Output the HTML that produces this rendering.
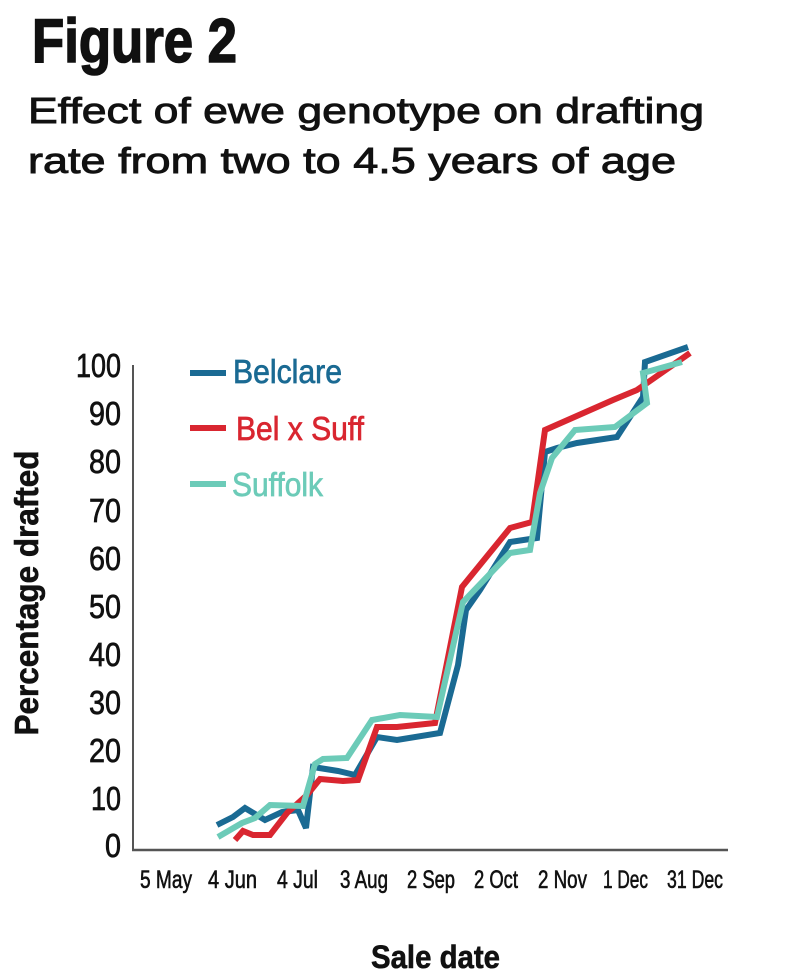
<!DOCTYPE html>
<html>
<head>
<meta charset="utf-8">
<style>
  html,body{margin:0;padding:0;background:#fff;}
  svg{display:block;}
  text{font-family:"Liberation Sans",sans-serif;fill:#111;}
</style>
</head>
<body>
<svg width="790" height="977" viewBox="0 0 790 977" xmlns="http://www.w3.org/2000/svg">
  <rect width="790" height="977" fill="#fff"/>
  <!-- Title -->
  <text x="32" y="62" font-size="62" font-weight="bold" stroke="#111" stroke-width="1.6" textLength="205" lengthAdjust="spacingAndGlyphs">Figure 2</text>
  <text x="28" y="123" font-size="36" stroke="#111" stroke-width="0.9" textLength="676" lengthAdjust="spacingAndGlyphs">Effect of ewe genotype on drafting</text>
  <text x="28" y="173" font-size="36" stroke="#111" stroke-width="0.9" textLength="648" lengthAdjust="spacingAndGlyphs">rate from two to 4.5 years of age</text>

  <!-- Axes -->
  <line x1="133" y1="365" x2="133" y2="850" stroke="#555" stroke-width="2"/>
  <line x1="132" y1="850" x2="728" y2="850" stroke="#555" stroke-width="2.5"/>

  <!-- Y tick labels -->
  <g font-size="33" text-anchor="end" stroke="#111" stroke-width="0.7">
    <text x="121" y="377" textLength="45" lengthAdjust="spacingAndGlyphs">100</text>
    <text x="121" y="425" textLength="32" lengthAdjust="spacingAndGlyphs">90</text>
    <text x="121" y="473" textLength="32" lengthAdjust="spacingAndGlyphs">80</text>
    <text x="121" y="522" textLength="32" lengthAdjust="spacingAndGlyphs">70</text>
    <text x="121" y="570" textLength="32" lengthAdjust="spacingAndGlyphs">60</text>
    <text x="121" y="618" textLength="32" lengthAdjust="spacingAndGlyphs">50</text>
    <text x="121" y="666" textLength="32" lengthAdjust="spacingAndGlyphs">40</text>
    <text x="121" y="714" textLength="32" lengthAdjust="spacingAndGlyphs">30</text>
    <text x="121" y="762" textLength="32" lengthAdjust="spacingAndGlyphs">20</text>
    <text x="121" y="810" textLength="30" lengthAdjust="spacingAndGlyphs">10</text>
    <text x="121" y="857" textLength="16" lengthAdjust="spacingAndGlyphs">0</text>
  </g>

  <!-- Y axis title -->
  <text transform="translate(38,593) rotate(-90)" font-size="33" font-weight="bold" stroke="#111" stroke-width="0.6" text-anchor="middle" textLength="285" lengthAdjust="spacingAndGlyphs">Percentage drafted</text>

  <!-- X tick labels -->
  <g font-size="25" stroke="#111" stroke-width="0.6">
    <text x="140" y="888" textLength="52" lengthAdjust="spacingAndGlyphs">5 May</text>
    <text x="208" y="888" textLength="49" lengthAdjust="spacingAndGlyphs">4 Jun</text>
    <text x="277" y="888" textLength="41" lengthAdjust="spacingAndGlyphs">4 Jul</text>
    <text x="340" y="888" textLength="48" lengthAdjust="spacingAndGlyphs">3 Aug</text>
    <text x="407" y="888" textLength="48" lengthAdjust="spacingAndGlyphs">2 Sep</text>
    <text x="474" y="888" textLength="44" lengthAdjust="spacingAndGlyphs">2 Oct</text>
    <text x="538" y="888" textLength="49" lengthAdjust="spacingAndGlyphs">2 Nov</text>
    <text x="603" y="888" textLength="45" lengthAdjust="spacingAndGlyphs">1 Dec</text>
    <text x="667" y="888" textLength="56" lengthAdjust="spacingAndGlyphs">31 Dec</text>
  </g>

  <!-- X axis title -->
  <text x="371" y="968" font-size="32" font-weight="bold" stroke="#111" stroke-width="0.6" textLength="129" lengthAdjust="spacingAndGlyphs">Sale date</text>

  <!-- Legend -->
  <line x1="190" y1="373" x2="226" y2="373" stroke="#1a6a93" stroke-width="6"/>
  <text x="233" y="383" font-size="33" style="fill:#1a6a93" stroke="#1a6a93" stroke-width="0.7" textLength="109" lengthAdjust="spacingAndGlyphs">Belclare</text>
  <line x1="190" y1="428" x2="226" y2="428" stroke="#d92630" stroke-width="6"/>
  <text x="236" y="440" font-size="33" style="fill:#d92630" stroke="#d92630" stroke-width="0.7" textLength="128" lengthAdjust="spacingAndGlyphs">Bel x Suff</text>
  <line x1="190" y1="484" x2="226" y2="484" stroke="#6ccbb8" stroke-width="6"/>
  <text x="232" y="496" font-size="33" style="fill:#6ccbb8" stroke="#6ccbb8" stroke-width="0.7" textLength="91" lengthAdjust="spacingAndGlyphs">Suffolk</text>

  <!-- Series -->
  <g fill="none" stroke-width="6" stroke-linejoin="miter" stroke-miterlimit="3">
    <!-- Belclare -->
    <polyline stroke="#1a6a93" points="217,825 233,817 245,808 265,820 282,812 298,810 306,828 313,767 338,771 355,775 377,737 397,740 440,733 458,665 466,610 480,590 510,542 537,538 545,452 557,448 577,443 617,437 643,397 645,362 688,347"/>
    <!-- Bel x Suff -->
    <polyline stroke="#d92630" points="235,840 243,831 253,835 270,835 287,813 307,795 320,779 343,781 358,780 377,727 397,727 435,723 462,587 510,528 532,522 545,430 613,400 637,390 690,353"/>
    <!-- Suffolk -->
    <polyline stroke="#6ccbb8" points="218,837 242,823 255,818 270,805 303,806 315,764 323,759 347,758 372,720 400,715 437,717 463,602 510,553 530,550 540,493 552,458 575,430 615,427 647,403 643,373 682,362"/>
  </g>
</svg>
</body>
</html>
